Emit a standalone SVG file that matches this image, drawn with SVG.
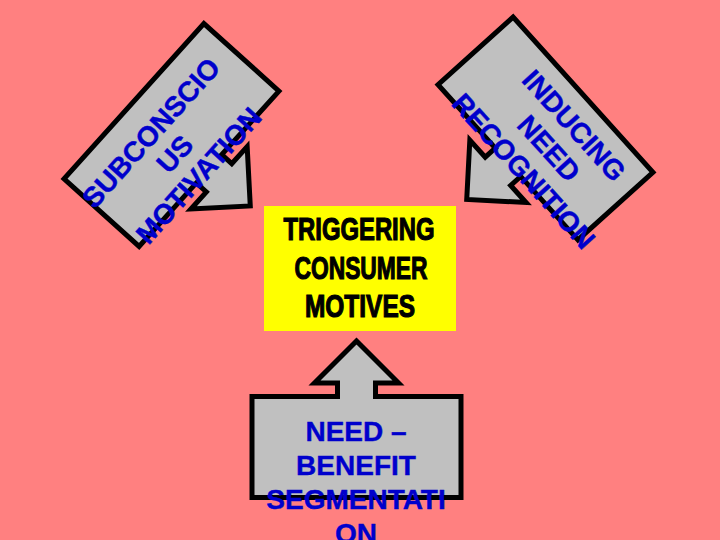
<svg xmlns="http://www.w3.org/2000/svg" width="720" height="540" viewBox="0 0 720 540">
  <style>
    .callout { fill: #C0C0C0; stroke: #000000; stroke-width: 5; stroke-linejoin: miter; }
    .blue { font-family: "Liberation Sans", Arial, sans-serif; font-weight: bold; font-size: 28px; fill: #0000CC; stroke: #0000CC; stroke-width: 0.4; text-anchor: middle; }
    .title { font-family: "Liberation Sans", Arial, sans-serif; font-weight: bold; font-size: 32px; fill: #000000; stroke: #000000; stroke-width: 1.2; text-anchor: middle; }
  </style>
  <defs>
    <path id="callout-up" d="M -104.5,-50.5 H -19 V -64 H -42 L 0,-106 L 42,-64 H 19 V -50.5 H 104.5 V 50.5 H -104.5 Z"/>
  </defs>
  <rect x="0" y="0" width="720" height="540" fill="#FF8080"/>
  <g id="connectors"/>
  <g id="subconscious-motivation">
    <use href="#callout-up" class="callout" transform="translate(171.5,135) rotate(132)"/>
    <g transform="translate(171.5,135) rotate(-48)">
      <text class="blue" x="-12" y="-7">SUBCONSCIO</text>
      <text class="blue" x="-12" y="25">US</text>
      <text class="blue" x="-12" y="57">MOTIVATION</text>
    </g>
  </g>
  <g id="inducing-need-recognition">
    <use href="#callout-up" class="callout" transform="translate(545.5,128.5) rotate(-132)"/>
    <g transform="translate(545.5,128.5) rotate(48)">
      <text class="blue" x="17" y="-13.5">INDUCING</text>
      <text class="blue" x="17" y="20.5">NEED</text>
      <text class="blue" x="17" y="54.5">RECOGNITION</text>
    </g>
  </g>
  <g id="need-benefit-segmentation">
    <use href="#callout-up" class="callout" transform="translate(356.5,447)"/>
    <text class="blue" x="356" y="441">NEED –</text>
    <text class="blue" x="356" y="475">BENEFIT</text>
    <text class="blue" x="356" y="509">SEGMENTATI</text>
    <text class="blue" x="356" y="543">ON</text>
  </g>
  <g id="triggering-consumer-motives">
    <rect x="264" y="206" width="192" height="125" fill="#FFFF00"/>
    <text class="title" x="359" y="240" textLength="151" lengthAdjust="spacingAndGlyphs">TRIGGERING</text>
    <text class="title" x="361" y="278.5" textLength="133" lengthAdjust="spacingAndGlyphs">CONSUMER</text>
    <text class="title" x="360" y="317" textLength="110" lengthAdjust="spacingAndGlyphs">MOTIVES</text>
  </g>
</svg>
